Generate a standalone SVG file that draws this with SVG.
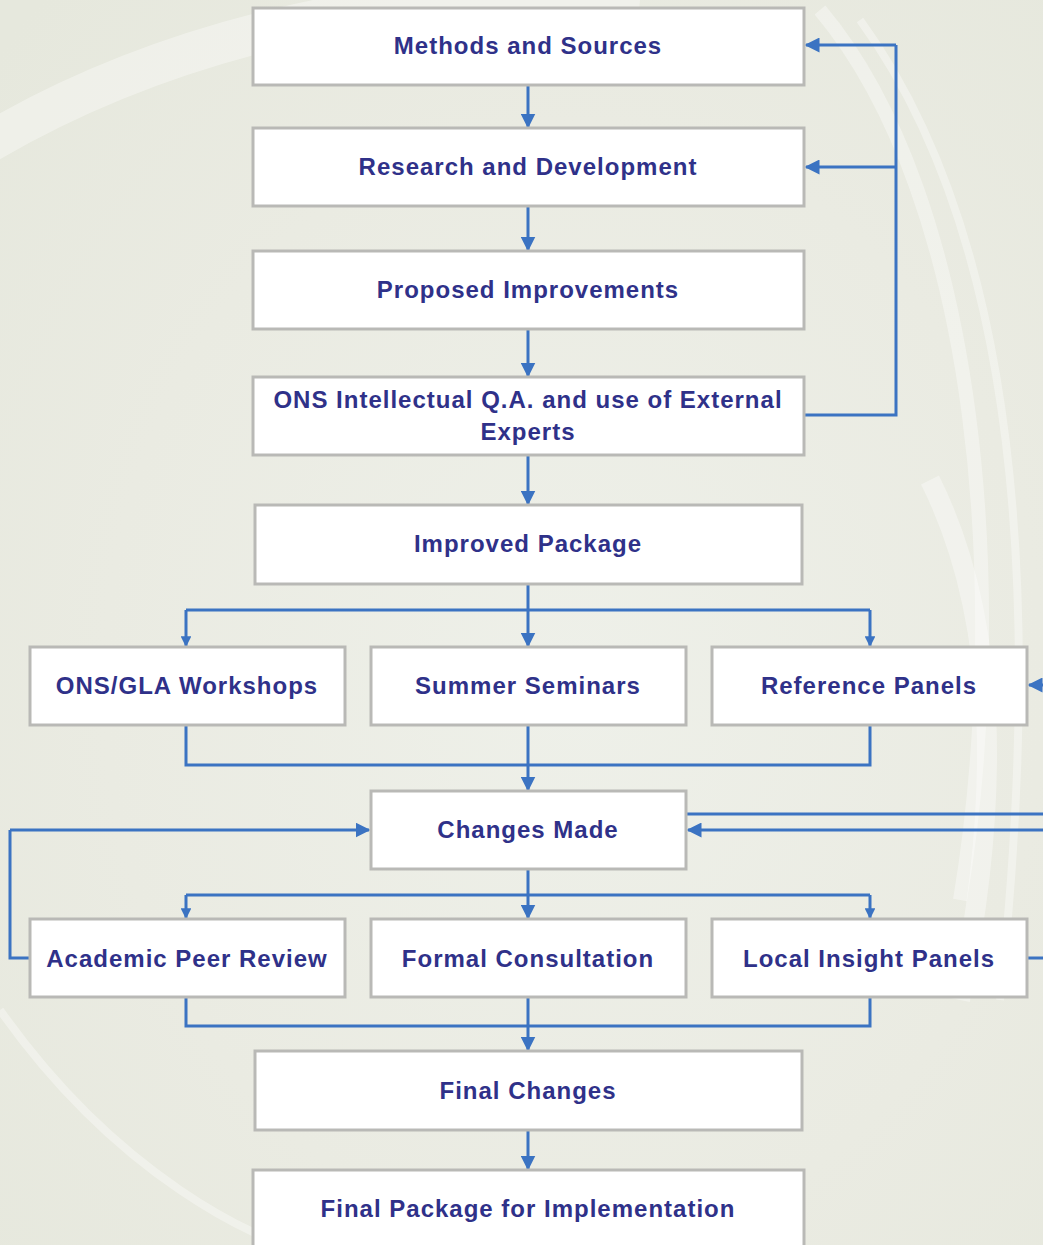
<svg xmlns="http://www.w3.org/2000/svg" width="1043" height="1245" viewBox="0 0 1043 1245">
<defs>
<radialGradient id="bg" cx="0.55" cy="0.55" r="0.75">
<stop offset="0" stop-color="#eef0e9"/>
<stop offset="0.6" stop-color="#eaebe2"/>
<stop offset="1" stop-color="#e6e8dd"/>
</radialGradient>
<marker id="ah" viewBox="0 0 10 10" refX="9" refY="5" markerWidth="5" markerHeight="5" orient="auto" markerUnits="strokeWidth">
<path d="M0,0 L10,5 L0,10 z" fill="#3b73c2"/>
</marker>
<marker id="as" viewBox="0 0 10 10" refX="9" refY="5" markerWidth="3.6" markerHeight="3.6" orient="auto" markerUnits="strokeWidth">
<path d="M0,0 L10,5 L0,10 z" fill="#3b73c2"/>
</marker>
<style>
.box{fill:#ffffff;stroke:#b9b9b6;stroke-width:3}
.lbl{font-family:"Liberation Sans",Arial,sans-serif;font-weight:bold;font-size:24px;letter-spacing:1px;fill:#2f3189;text-anchor:middle}
.c{fill:none;stroke:#3b73c2;stroke-width:3}
.arc{fill:none;stroke:#ffffff;stroke-opacity:0.35}
</style>
</defs>
<rect width="1043" height="1245" fill="url(#bg)"/>
<g id="background-swirl">
<path class="arc" stroke-width="40" d="M-40,160 C150,40 400,-20 640,0"/>
<path class="arc" stroke-width="8" d="M0,1010 C120,1180 260,1240 300,1250"/>
<path class="arc" stroke-width="14" d="M820,10 C980,200 1010,600 960,900"/>
<path class="arc" stroke-width="8" d="M860,20 C1020,240 1043,600 1000,1000"/>
<path class="arc" stroke-width="20" d="M930,480 C1000,620 1000,800 960,1000"/>
</g>
<g id="connectors">
<path class="c" marker-end="url(#ah)" d="M528,85 V127"/>
<path class="c" marker-end="url(#ah)" d="M528,206 V250"/>
<path class="c" marker-end="url(#ah)" d="M528,329 V376"/>
<path class="c" marker-end="url(#ah)" d="M528,455 V504"/>
<path class="c" d="M804,415 H896 V45"/>
<path class="c" marker-end="url(#ah)" d="M896,45 H806"/>
<path class="c" marker-end="url(#ah)" d="M896,167 H806"/>
<path class="c" d="M528,584 V610"/>
<path class="c" d="M186,610 H870"/>
<path class="c" marker-end="url(#as)" d="M186,610 V646"/>
<path class="c" marker-end="url(#ah)" d="M528,610 V646"/>
<path class="c" marker-end="url(#as)" d="M870,610 V646"/>
<path class="c" d="M186,725 V765 H870 V725"/>
<path class="c" marker-end="url(#ah)" d="M528,725 V790"/>
<path class="c" marker-end="url(#ah)" d="M1043,685 H1029"/>
<path class="c" d="M686,814 H1043"/>
<path class="c" marker-end="url(#ah)" d="M1043,830 H688"/>
<path class="c" d="M30,958 H10 V830"/>
<path class="c" marker-end="url(#ah)" d="M10,830 H369"/>
<path class="c" d="M528,869 V895"/>
<path class="c" d="M186,895 H870"/>
<path class="c" marker-end="url(#as)" d="M186,895 V918"/>
<path class="c" marker-end="url(#ah)" d="M528,895 V918"/>
<path class="c" marker-end="url(#as)" d="M870,895 V918"/>
<path class="c" d="M1027,958 H1043"/>
<path class="c" d="M186,997 V1026 H870 V997"/>
<path class="c" marker-end="url(#ah)" d="M528,997 V1050"/>
<path class="c" marker-end="url(#ah)" d="M528,1130 V1169"/>
</g>
<g id="n-methods"><rect class="box" x="253" y="8" width="551" height="77"/><text class="lbl" x="528" y="54">Methods and Sources</text></g>
<g id="n-research"><rect class="box" x="253" y="128" width="551" height="78"/><text class="lbl" x="528" y="175">Research and Development</text></g>
<g id="n-proposed"><rect class="box" x="253" y="251" width="551" height="78"/><text class="lbl" x="528" y="298">Proposed Improvements</text></g>
<g id="n-ons-qa"><rect class="box" x="253" y="377" width="551" height="78"/><text class="lbl" x="528" y="408">ONS Intellectual Q.A. and use of External</text><text class="lbl" x="528" y="440">Experts</text></g>
<g id="n-improved"><rect class="box" x="255" y="505" width="547" height="79"/><text class="lbl" x="528" y="552">Improved Package</text></g>
<g id="n-workshops"><rect class="box" x="30" y="647" width="315" height="78"/><text class="lbl" x="187" y="694">ONS/GLA Workshops</text></g>
<g id="n-seminars"><rect class="box" x="371" y="647" width="315" height="78"/><text class="lbl" x="528" y="694">Summer Seminars</text></g>
<g id="n-reference"><rect class="box" x="712" y="647" width="315" height="78"/><text class="lbl" x="869" y="694">Reference Panels</text></g>
<g id="n-changes"><rect class="box" x="371" y="791" width="315" height="78"/><text class="lbl" x="528" y="838">Changes Made</text></g>
<g id="n-peer"><rect class="box" x="30" y="919" width="315" height="78"/><text class="lbl" x="187" y="967">Academic Peer Review</text></g>
<g id="n-consult"><rect class="box" x="371" y="919" width="315" height="78"/><text class="lbl" x="528" y="967">Formal Consultation</text></g>
<g id="n-local"><rect class="box" x="712" y="919" width="315" height="78"/><text class="lbl" x="869" y="967">Local Insight Panels</text></g>
<g id="n-final-changes"><rect class="box" x="255" y="1051" width="547" height="79"/><text class="lbl" x="528" y="1099">Final Changes</text></g>
<g id="n-final-package"><rect class="box" x="253" y="1170" width="551" height="90"/><text class="lbl" x="528" y="1217">Final Package for Implementation</text></g>
</svg>
